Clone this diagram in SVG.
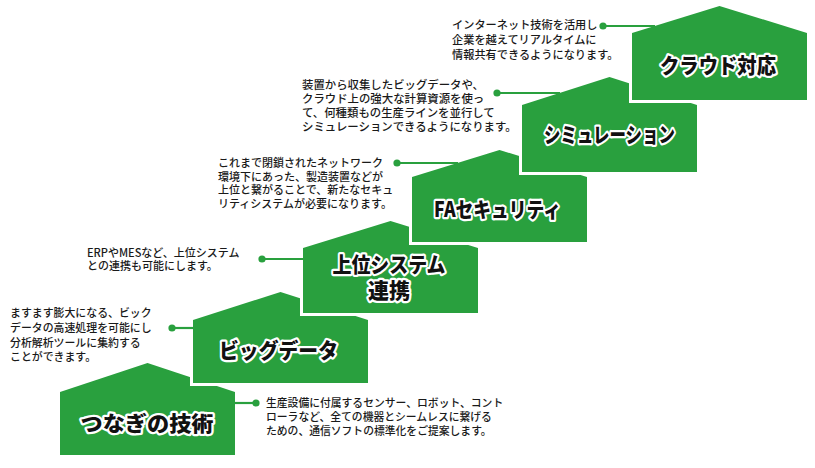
<svg xmlns="http://www.w3.org/2000/svg" width="815" height="468" viewBox="0 0 815 468">
<style>
.house{fill:#29a03e;stroke:#fff;stroke-width:6;paint-order:stroke;stroke-linejoin:miter}
.lbl{font-family:"Noto Sans CJK JP","Noto Sans",sans-serif;font-weight:900;font-size:21px;fill:#111;stroke:#fff;stroke-width:4.5;stroke-linejoin:round;paint-order:stroke;text-anchor:middle}
.desc{font-family:"Noto Sans CJK JP","Noto Sans",sans-serif;font-weight:500;font-size:11px;fill:#1a1a1a}
.conn line{stroke:#29a03e;stroke-width:2.2}
.conn circle{fill:#29a03e}
</style>
<rect width="815" height="468" fill="#fff"/>
<g id="house1">
<path class="house" d="M60 392 L147.5 363 L235 392 L235 455 L60 455 Z"/>
<text class="lbl" x="147" y="430.5" textLength="133" lengthAdjust="spacingAndGlyphs">つなぎの技術</text>
</g>
<g id="house2">
<path class="house" d="M193 320 L280.5 292 L368 320 L368 383 L193 383 Z"/>
<text class="lbl" x="278.5" y="357.5" textLength="119" lengthAdjust="spacingAndGlyphs">ビッグデータ</text>
</g>
<g id="house3">
<path class="house" d="M303 248 L390.5 221 L478 248 L478 313 L303 313 Z"/>
<text class="lbl" x="389" y="271.5" textLength="113" lengthAdjust="spacingAndGlyphs">上位システム</text>
<text class="lbl" x="389" y="297.5">連携</text>
</g>
<g id="house4">
<path class="house" d="M412 177 L499.5 150 L587 177 L587 242 L412 242 Z"/>
<text class="lbl" x="497.5" y="216.5" textLength="127" lengthAdjust="spacingAndGlyphs">FAセキュリティ</text>
</g>
<g id="house5">
<path class="house" d="M522 105 L609.5 77 L697 105 L697 172 L522 172 Z"/>
<text class="lbl" x="609.5" y="141.5" textLength="131" lengthAdjust="spacingAndGlyphs">シミュレーション</text>
</g>
<g id="house6">
<path class="house" d="M632 33 L719.5 6 L807 33 L807 100 L632 100 Z"/>
<text class="lbl" x="718" y="72.5" textLength="116" lengthAdjust="spacingAndGlyphs">クラウド対応</text>
</g>
<g id="connectors" class="conn">
<line x1="603" y1="26" x2="655" y2="26"/><circle cx="603" cy="26" r="3.6"/>
<line x1="497" y1="93" x2="560" y2="93"/><circle cx="497" cy="93" r="3.6"/>
<line x1="397" y1="163" x2="458" y2="163"/><circle cx="397" cy="163" r="3.6"/>
<line x1="262" y1="259" x2="303" y2="259"/><circle cx="262" cy="259" r="3.6"/>
<line x1="172" y1="328" x2="193" y2="328"/><circle cx="172" cy="328" r="3.6"/>
<line x1="235" y1="403" x2="256" y2="403"/><circle cx="256" cy="403" r="3.6"/>
</g>
<g id="desc6" class="desc" style="font-size:11.2px">
<text x="452" y="29">インターネット技術を活用し</text>
<text x="452" y="44">企業を越えてリアルタイムに</text>
<text x="452" y="59">情報共有できるようになります。</text>
</g>
<g id="desc5" class="desc" style="font-size:11.4px">
<text x="302" y="89">装置から収集したビッグデータや、</text>
<text x="302" y="103">クラウド上の強大な計算資源を使っ</text>
<text x="302" y="117">て、何種類もの生産ラインを並行して</text>
<text x="302" y="131">シミュレーションできるようになります。</text>
</g>
<g id="desc4" class="desc">
<text x="218" y="167">これまで閉鎖されたネットワーク</text>
<text x="218" y="180.5">環境下にあった、製造装置などが</text>
<text x="218" y="194">上位と繋がることで、新たなセキュ</text>
<text x="218" y="207.5">リティシステムが必要になります。</text>
</g>
<g id="desc3" class="desc">
<text x="87" y="256.5">ERPやMESなど、上位システム</text>
<text x="87" y="270">との連携も可能にします。</text>
</g>
<g id="desc2" class="desc" style="font-size:10.9px">
<text x="10" y="317">ますます膨大になる、ビック</text>
<text x="10" y="332">データの高速処理を可能にし</text>
<text x="10" y="347">分析解析ツールに集約する</text>
<text x="10" y="361">ことができます。</text>
</g>
<g id="desc1" class="desc" style="font-size:10.8px">
<text x="266" y="407">生産設備に付属するセンサー、ロボット、コント</text>
<text x="266" y="421">ローラなど、全ての機器とシームレスに繋げる</text>
<text x="266" y="435">ための、通信ソフトの標準化をご提案します。</text>
</g>
</svg>
